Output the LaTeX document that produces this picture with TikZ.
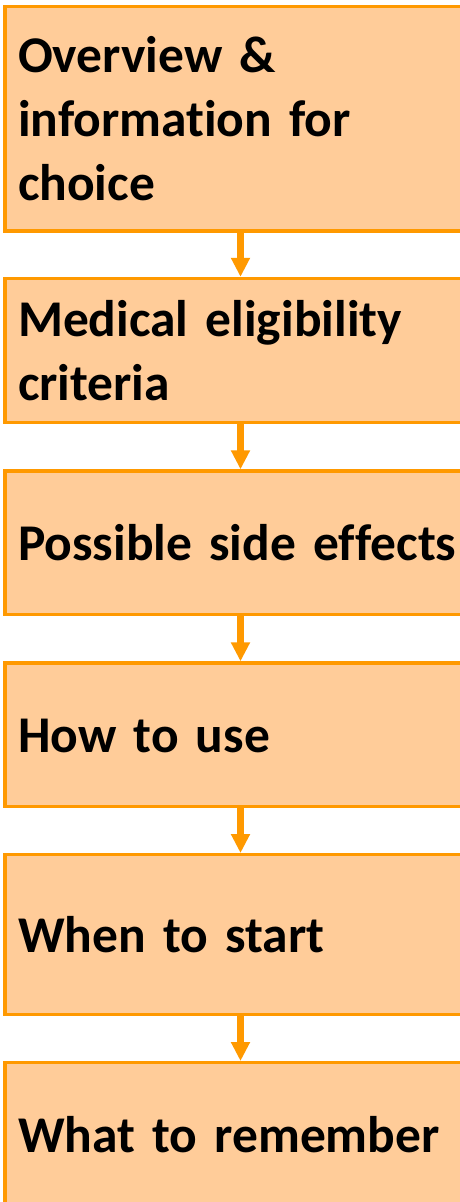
\documentclass[tikz,border=0pt]{standalone}
\usepackage{fontspec}
\setmainfont{Carlito}[Ligatures=CommonOff]
\usetikzlibrary{arrows.meta}
\definecolor{boxfill}{HTML}{FFCC99}
\definecolor{boxline}{HTML}{FF9900}
\newcommand{\lstrut}{\rule[-0.269em]{0pt}{1.221em}}
\begin{document}
\begin{tikzpicture}[x=1pt,y=-1pt,
  stepbox/.style={draw=boxline, fill=boxfill, line width=3.3pt, rectangle,
    inner xsep=13pt, inner ysep=0pt, text width=445pt, align=left,
    font=\fontsize{51.5}{62.26}\selectfont\bfseries},
  arr/.style={draw=boxline, line width=6.5pt, -{Triangle[width=18pt,length=19pt]}}]
\useasboundingbox (0,0) rectangle (460,1202);
\clip (0,0) rectangle (460,1202);
\node[stepbox, minimum height=224.5pt] (b1) at (240.5,118.75)
  {\lstrut Overview \&\\\lstrut information for\\\lstrut choice};
\node[stepbox, minimum height=144.2pt] (b2) at (240.5,350.6)
  {\lstrut Medical eligibility\\\lstrut criteria};
\node[stepbox, minimum height=143.3pt] (b3) at (240.5,542.65)
  {\lstrut Possible side effects};
\node[stepbox, minimum height=143.7pt] (b4) at (240.5,734.85)
  {\lstrut How to use};
\node[stepbox, minimum height=160pt] (b5) at (240.5,934.7)
  {\lstrut When to start};
\node[stepbox, minimum height=144pt] (b6) at (240.5,1134.7)
  {\lstrut What to remember};
\draw[arr] (b1.south) -- (b2.north);
\draw[arr] (b2.south) -- (b3.north);
\draw[arr] (b3.south) -- (b4.north);
\draw[arr] (b4.south) -- (b5.north);
\draw[arr] (b5.south) -- (b6.north);
\end{tikzpicture}
\end{document}
